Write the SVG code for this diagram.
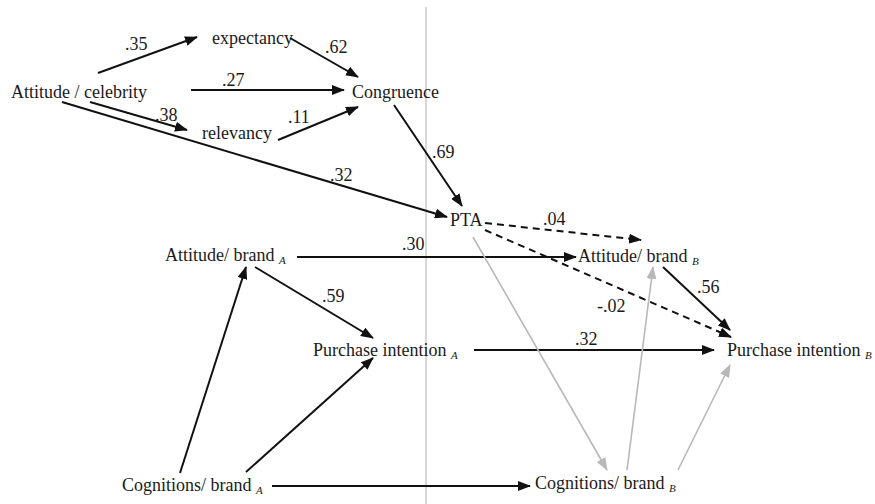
<svg xmlns="http://www.w3.org/2000/svg" width="875" height="504" viewBox="0 0 875 504">
<defs>
<style>
.t{font-family:'Liberation Serif','Times New Roman',serif;font-size:18px;fill:#1a1a1a}
.sub{font-size:11px;font-style:italic}
.c{stroke:#111;stroke-width:2;fill:none}
.d{stroke-dasharray:7 5}
.g{stroke:#b8b8b8;stroke-width:1.6;fill:none}
</style>
<marker id="ah" viewBox="0 0 13 10" refX="12" refY="5" markerWidth="13" markerHeight="10" markerUnits="userSpaceOnUse" orient="auto"><path d="M0,0 L13,5 L0,10 z" fill="#111"/></marker>
<marker id="ahg" viewBox="0 0 13 10" refX="12" refY="5" markerWidth="13" markerHeight="10" markerUnits="userSpaceOnUse" orient="auto"><path d="M0,0 L13,5 L0,10 z" fill="#b8b8b8"/></marker>
</defs>
<rect width="875" height="504" fill="#fff"/>
<line x1="426" y1="7" x2="426" y2="504" stroke="#c8c8c8" stroke-width="1.4"/>
<g id="connectors">
<g class="c" marker-end="url(#ah)">
<line x1="98" y1="73" x2="197" y2="37"/>
<line x1="191" y1="90" x2="344" y2="90"/>
<line x1="90" y1="102" x2="187" y2="130"/>
<line x1="62" y1="102" x2="447" y2="217"/>
<line x1="290" y1="38" x2="358" y2="77"/>
<line x1="278" y1="140" x2="358" y2="107"/>
<line x1="394" y1="105" x2="462" y2="206"/>
<line x1="297" y1="257" x2="576" y2="257"/>
<line class="d" x1="485" y1="223" x2="641" y2="240"/>
<line class="d" x1="485" y1="230" x2="731" y2="337"/>
<line x1="663" y1="267" x2="730" y2="330"/>
<line x1="255" y1="267" x2="373" y2="338"/>
<line x1="180" y1="473" x2="246" y2="267"/>
<line x1="246" y1="472" x2="373" y2="358"/>
<line x1="272" y1="486" x2="530" y2="486"/>
<line x1="474" y1="350" x2="714" y2="350"/>
</g>
<g class="g" marker-end="url(#ahg)">
<line x1="473" y1="237" x2="607" y2="470"/>
<line x1="627" y1="470" x2="653" y2="267"/>
<line x1="678" y1="470" x2="730" y2="365"/>
</g>
</g>
<g id="labels">
<text class="t" font-family="Liberation Serif" x="125" y="50">.35</text>
<text class="t" font-family="Liberation Serif" x="325" y="53">.62</text>
<text class="t" font-family="Liberation Serif" x="222" y="86">.27</text>
<text class="t" font-family="Liberation Serif" x="155" y="121">.38</text>
<text class="t" font-family="Liberation Serif" x="288" y="123">.11</text>
<text class="t" font-family="Liberation Serif" x="330" y="181">.32</text>
<text class="t" font-family="Liberation Serif" x="432" y="158">.69</text>
<text class="t" font-family="Liberation Serif" x="543" y="225">.04</text>
<text class="t" font-family="Liberation Serif" x="402" y="250">.30</text>
<text class="t" font-family="Liberation Serif" x="697" y="293">.56</text>
<text class="t" font-family="Liberation Serif" x="597" y="312">-.02</text>
<text class="t" font-family="Liberation Serif" x="322" y="302">.59</text>
<text class="t" font-family="Liberation Serif" x="575" y="345">.32</text>
</g>
<g id="n-expectancy"><text class="t" font-family="Liberation Serif" x="212" y="44">expectancy</text></g>
<g id="n-attcel"><text class="t" font-family="Liberation Serif" x="11" y="98">Attitude / celebrity</text></g>
<g id="n-congruence"><text class="t" font-family="Liberation Serif" x="352" y="98">Congruence</text></g>
<g id="n-relevancy"><text class="t" font-family="Liberation Serif" x="202" y="139">relevancy</text></g>
<g id="n-pta"><text class="t" font-family="Liberation Serif" x="450" y="226">PTA</text></g>
<g id="n-attA"><text class="t" font-family="Liberation Serif" x="165" y="261">Attitude/ brand <tspan class="sub" dy="3">A</tspan></text></g>
<g id="n-attB"><text class="t" font-family="Liberation Serif" x="578" y="262">Attitude/ brand <tspan class="sub" dy="3">B</tspan></text></g>
<g id="n-piA"><text class="t" font-family="Liberation Serif" x="313" y="356">Purchase intention <tspan class="sub" dy="3">A</tspan></text></g>
<g id="n-piB"><text class="t" font-family="Liberation Serif" x="727" y="356">Purchase intention <tspan class="sub" dy="3">B</tspan></text></g>
<g id="n-cogA"><text class="t" font-family="Liberation Serif" x="122" y="491">Cognitions/ brand <tspan class="sub" dy="3">A</tspan></text></g>
<g id="n-cogB"><text class="t" font-family="Liberation Serif" x="535" y="489">Cognitions/ brand <tspan class="sub" dy="3">B</tspan></text></g>
</svg>
